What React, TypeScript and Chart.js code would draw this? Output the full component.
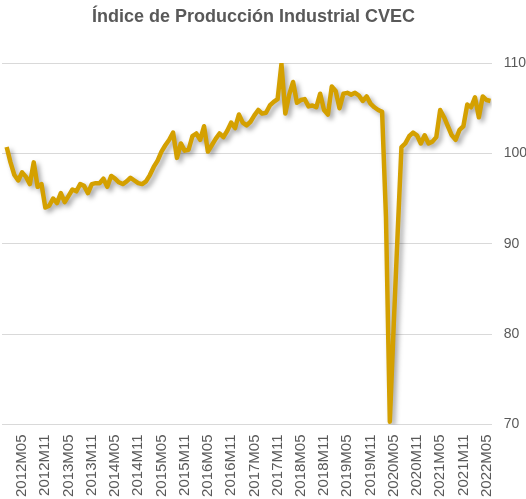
import React, { useEffect, useRef } from "react";
import { Chart, registerables } from "chart.js";

Chart.register(...registerables);

const TITLE = "Índice de Producción Industrial CVEC";
const START_YEAR = 2012;
const END_YEAR = 2022;
const END_MONTH = 6;

// monthly index, 2012M01 .. 2022M06
const ipiValues = [
  100.7, 99.0, 97.6, 97.0, 97.9, 97.4, 96.6, 99.0, 96.3, 96.6, 94.0, 94.2,
  95.0, 94.5, 95.6, 94.6, 95.3, 96.0, 95.8, 96.6, 96.4, 95.6, 96.6, 96.7,
  96.7, 97.2, 96.3, 97.5, 97.2, 96.8, 96.6, 96.9, 97.3, 97.0, 96.7, 96.6,
  96.9, 97.6, 98.5, 99.2, 100.2, 100.9, 101.5, 102.3, 99.5, 101.1, 100.3, 100.4,
  101.9, 102.2, 101.5, 103.0, 100.2, 100.9, 101.6, 102.2, 101.8, 102.5, 103.4, 102.8,
  104.3, 103.4, 103.1, 103.5, 104.2, 104.8, 104.4, 104.5, 105.3, 105.7, 106.0, 109.9,
  104.4, 106.5, 107.9, 105.6, 105.9, 106.0, 105.2, 105.3, 105.1, 106.6, 104.8, 104.3,
  107.4, 106.9, 105.0, 106.6, 106.7, 106.5, 106.7, 106.4, 105.8, 106.3, 105.5, 105.1,
  104.8, 104.6, 93.0, 70.3, 81.0, 91.0, 100.7, 101.1, 101.9, 102.3, 102.0, 101.1,
  102.0, 101.1, 101.3, 101.8, 104.8, 104.0, 103.0, 102.0, 101.5, 102.6, 103.0, 105.4,
  105.1, 106.2, 104.0, 106.3, 105.9, 105.8,
];

const shownTickLabels = [
  "2012M05", "2012M11", "2013M05", "2013M11", "2014M05", "2014M11", "2015M05",
  "2015M11", "2016M05", "2016M11", "2017M05", "2017M11", "2018M05", "2018M11",
  "2019M05", "2019M11", "2020M05", "2020M11", "2021M05", "2021M11", "2022M05",
];

const yTicks = [70, 80, 90, 100, 110];

const months: string[] = [];
for (let y = START_YEAR; y <= END_YEAR; y++) {
  for (let m = 1; m <= 12; m++) {
    if (y === END_YEAR && m > END_MONTH) break;
    months.push(`${y}M${String(m).padStart(2, "0")}`);
  }
}

const FONT = "'Liberation Sans', Arial, sans-serif";

const shadowPlugin = {
  id: "lineShadow",
  beforeDatasetsDraw(chart: any) {
    const ctx = chart.ctx;
    ctx.save();
    ctx.shadowColor = "rgba(0,0,0,0.35)";
    ctx.shadowBlur = 5;
    ctx.shadowOffsetX = 3;
    ctx.shadowOffsetY = 3;
  },
  afterDatasetsDraw(chart: any) {
    chart.ctx.restore();
  },
};

const titlePlugin = {
  id: "customTitle",
  afterDraw(chart: any) {
    const ctx = chart.ctx;
    ctx.save();
    ctx.font = `bold 18px ${FONT}`;
    ctx.fillStyle = "#595959";
    ctx.textAlign = "center";
    ctx.textBaseline = "middle";
    ctx.fillText(TITLE, chart.width / 2 - 9.5, 17);
    ctx.restore();
  },
};

export default function App() {
  const ref = useRef<HTMLCanvasElement | null>(null);

  useEffect(() => {
    if (!ref.current) return;
    Chart.defaults.font.family = FONT;
    const chart = new Chart(ref.current, {
      type: "line",
      data: {
        datasets: [
          {
            label: "IPI CVEC",
            data: ipiValues.map((v, i) => ({ x: i, y: v })),
            borderColor: "#D4A000",
            borderWidth: 4.5,
            pointRadius: 0,
            tension: 0,
            borderJoinStyle: "round",
            borderCapStyle: "butt",
            fill: false,
          },
        ],
      },
      options: {
        animation: false,
        responsive: true,
        maintainAspectRatio: false,
        layout: { padding: { left: 2, right: -13, top: 63, bottom: -8 } },
        plugins: {
          legend: { display: false },
          tooltip: { enabled: false },
          title: { display: false },
        },
        scales: {
          x: {
            type: "linear",
            min: -1.2,
            max: months.length - 1 + 0.3,
            grid: { display: false, drawTicks: false },
            border: { display: false },
            afterBuildTicks: (axis: any) => {
              axis.ticks = shownTickLabels.map((l) => ({ value: months.indexOf(l) }));
            },
            ticks: {
              autoSkip: false,
              minRotation: 90,
              maxRotation: 90,
              padding: 10,
              color: "#595959",
              font: { size: 15 },
              callback: (value: any) => months[Math.round(Number(value))] ?? "",
            },
          },
          y: {
            position: "right",
            min: 70,
            max: 110,
            afterBuildTicks: (axis: any) => {
              axis.ticks = yTicks.map((v) => ({ value: v }));
            },
            grid: { color: "#D9D9D9", lineWidth: 1, drawTicks: false },
            border: { display: false },
            ticks: {
              padding: 12,
              color: "#595959",
              font: { size: 14 },
            },
          },
        },
      },
      plugins: [shadowPlugin, titlePlugin],
    } as any);
    return () => chart.destroy();
  }, []);

  return (
    <div style={{ position: "absolute", left: 0, top: 0, width: 526, height: 499, background: "#fff" }}>
      <canvas ref={ref} />
    </div>
  );
}
